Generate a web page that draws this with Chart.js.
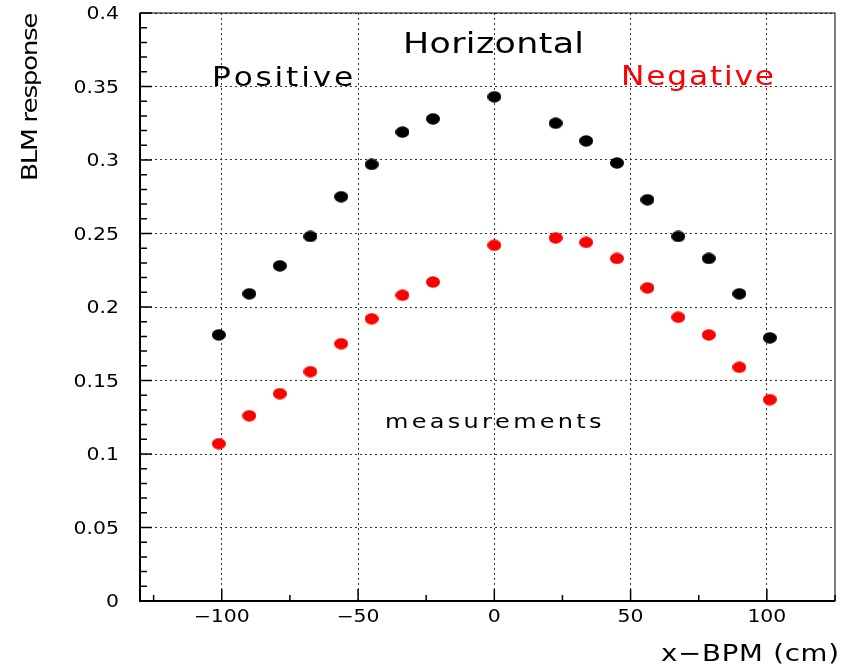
<!DOCTYPE html>
<html>
<head>
<meta charset="utf-8">
<script src="https://cdn.jsdelivr.net/npm/chart.js@4.4.0/dist/chart.umd.min.js"></script>
<style>
  html, body { margin: 0; padding: 0; background: #fff; }
  #wrap { width: 850px; height: 666px; }
</style>
</head>
<body>
<div id="wrap"><canvas id="blmChart" width="850" height="666"></canvas></div>
<script>
// x positions (cm)
const xPositions = [-101.1, -89.9, -78.7, -67.5, -56.2, -45.0, -33.7, -22.5, 0,
  22.5, 33.7, 45.0, 56.2, 67.5, 78.7, 89.9, 101.1];
// BLM response, positive (black)
const positiveValues = [0.181, 0.209, 0.228, 0.248, 0.275, 0.297, 0.319, 0.328, 0.343,
  0.325, 0.313, 0.298, 0.273, 0.248, 0.233, 0.209, 0.179];
// BLM response, negative (red)
const negativeValues = [0.107, 0.126, 0.141, 0.156, 0.175, 0.192, 0.208, 0.217, 0.242,
  0.247, 0.244, 0.233, 0.213, 0.193, 0.181, 0.159, 0.137];
const xMajorTicks = [-100, -50, 0, 50, 100];
const xMinorTicks = [-125, -75, -25, 25, 75, 125];

const FONT = '"DejaVu Sans", sans-serif';

function makeDot(color) {
  const c = document.createElement('canvas');
  c.width = 14;
  c.height = 12;
  const g = c.getContext('2d');
  g.fillStyle = color;
  g.beginPath();
  g.ellipse(7, 6, 7, 5.8, 0, 0, Math.PI * 2);
  g.fill();
  return c;
}

// wide text: stretched glyphs, optional spacing to reach a width
function wideText(ctx, text, x, y, size, opts) {
  const o = Object.assign({ align: 'left', color: '#000', stretch: 1.2, width: null }, opts);
  ctx.save();
  ctx.font = size + 'px ' + FONT;
  ctx.fillStyle = o.color;
  ctx.textBaseline = 'alphabetic';
  ctx.textAlign = 'left';
  const chars = Array.from(text);
  const plain = ctx.measureText(text).width * o.stretch;
  const total = o.width || plain;
  const gap = chars.length > 1 ? (total - plain) / (chars.length - 1) : 0;
  let cx = o.align === 'right' ? x - total : (o.align === 'center' ? x - total / 2 : x);
  chars.forEach(ch => {
    ctx.save();
    ctx.translate(cx, y);
    ctx.scale(o.stretch, 1);
    ctx.fillText(ch, 0, 0);
    ctx.restore();
    cx += ctx.measureText(ch).width * o.stretch + gap;
  });
  ctx.restore();
}

const decorPlugin = {
  id: 'decor',
  afterDraw(chart) {
    const ctx = chart.ctx;
    const xs = chart.scales.x;
    const ys = chart.scales.y;
    const area = chart.chartArea;

    ctx.save();
    // frame
    ctx.strokeStyle = '#000';
    ctx.lineWidth = 1;
    ctx.strokeRect(area.left, area.top, area.right - area.left, area.bottom - area.top);
    ctx.lineWidth = 2;
    ctx.beginPath();
    ctx.moveTo(area.left, area.top);
    ctx.lineTo(area.left, area.bottom);
    ctx.lineTo(area.right, area.bottom);
    ctx.stroke();

    // tick marks
    ctx.lineWidth = 1.5;
    ctx.beginPath();
    xMajorTicks.forEach(v => {
      const px = xs.getPixelForValue(v);
      ctx.moveTo(px, area.bottom);
      ctx.lineTo(px, area.bottom - 12);
    });
    xMinorTicks.forEach(v => {
      const px = xs.getPixelForValue(v);
      if (px > area.right + 1) return;
      ctx.moveTo(px, area.bottom);
      ctx.lineTo(px, area.bottom - 6);
    });
    for (let i = 0; i <= 40; i++) {
      const py = ys.getPixelForValue(i / 100);
      const len = i % 5 === 0 ? 12 : 7;
      ctx.moveTo(area.left, py);
      ctx.lineTo(area.left + len, py);
    }
    ctx.stroke();
    ctx.restore();

    // tick labels
    xs.ticks.forEach(t => {
      const label = String(t.value).replace('-', '\u2212');
      wideText(ctx, label, xs.getPixelForValue(t.value), area.bottom + 21, 17, { align: 'center' });
    });
    ys.ticks.forEach(t => {
      const label = String(Math.round(t.value * 100) / 100);
      wideText(ctx, label, area.left - 21, ys.getPixelForValue(t.value) + 6, 17, { align: 'right' });
    });

    // axis titles
    wideText(ctx, 'x\u2212BPM (cm)', 839, 661, 23, { align: 'right', width: 178 });
    ctx.save();
    ctx.translate(37, 13);
    ctx.rotate(-Math.PI / 2);
    wideText(ctx, 'BLM response', 0, 0, 22, { align: 'right', width: 168 });
    ctx.restore();

    // labels inside plot
    wideText(ctx, 'Horizontal', 403, 53, 29, { width: 181 });
    wideText(ctx, 'Positive', 212, 86, 26, { width: 140 });
    wideText(ctx, 'Negative', 621, 85, 26, { width: 153, color: '#ff0000' });
    wideText(ctx, 'measurements', 385, 428, 20, { width: 216 });
  }
};

const ctx = document.getElementById('blmChart').getContext('2d');

const chart = new Chart(ctx, {
  type: 'scatter',
  data: {
    datasets: [
      {
        label: 'Positive',
        data: xPositions.map((x, i) => ({ x: x, y: positiveValues[i] })),
        pointStyle: makeDot('#000000'),
        backgroundColor: '#000',
        borderColor: '#000'
      },
      {
        label: 'Negative',
        data: xPositions.map((x, i) => ({ x: x, y: negativeValues[i] })),
        pointStyle: makeDot('#ff0000'),
        backgroundColor: '#f00',
        borderColor: '#f00'
      }
    ]
  },
  options: {
    responsive: false,
    animation: false,
    layout: { padding: { top: 13, right: 15, left: 0, bottom: 0 } },
    plugins: {
      legend: { display: false },
      tooltip: { enabled: false }
    },
    scales: {
      x: {
        type: 'linear',
        min: -130,
        max: 125,
        afterBuildTicks: scale => {
          scale.ticks = xMajorTicks.map(v => ({ value: v }));
        },
        afterFit: scale => {
          scale.height = 65;
          scale.paddingLeft = 0;
          scale.paddingRight = 0;
        },
        // in v4 the grid line dash comes from border.dash
        border: { display: false, dash: [2, 3] },
        grid: {
          color: '#333',
          lineWidth: 1,
          drawTicks: false
        },
        ticks: { display: false }
      },
      y: {
        type: 'linear',
        min: 0,
        max: 0.4,
        afterBuildTicks: scale => {
          const list = [];
          for (let i = 0; i <= 8; i++) list.push({ value: i * 0.05 });
          scale.ticks = list;
        },
        afterFit: scale => {
          scale.width = 140;
          scale.paddingTop = 0;
          scale.paddingBottom = 0;
        },
        border: { display: false, dash: [2, 3] },
        grid: {
          color: '#333',
          lineWidth: 1,
          drawTicks: false
        },
        ticks: { display: false }
      }
    }
  },
  plugins: [decorPlugin]
});
</script>
</body>
</html>
